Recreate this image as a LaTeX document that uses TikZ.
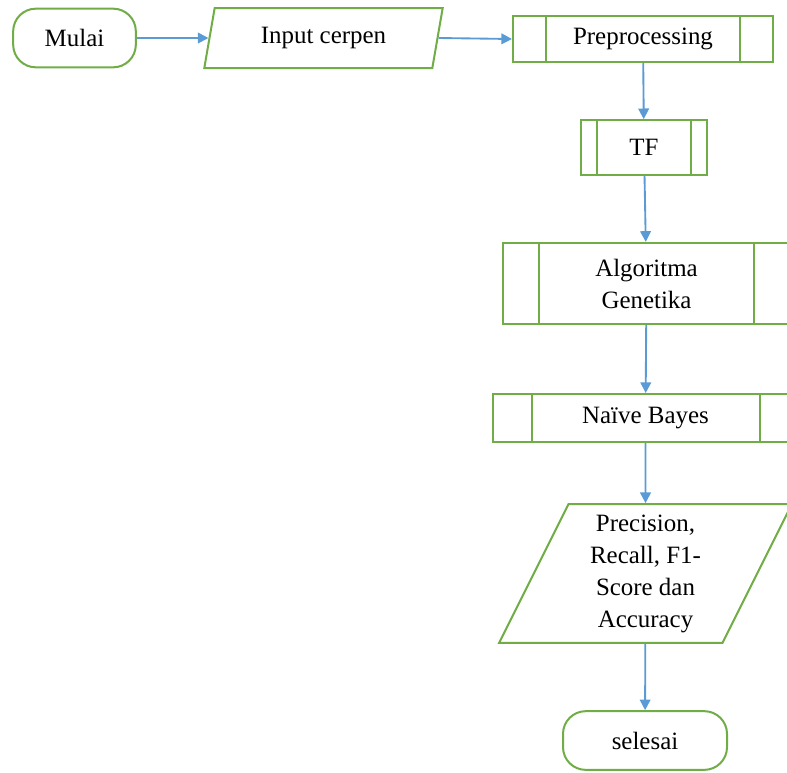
\documentclass[tikz,border=0pt]{standalone}
\usepackage{fontspec}
\setmainfont{Liberation Serif}
\usetikzlibrary{shapes.geometric,arrows.meta}

\definecolor{boxgreen}{RGB}{112,173,71}
\definecolor{linkblue}{RGB}{91,155,213}

\begin{document}
\begin{tikzpicture}
[
	x=0.75pt,
	y=-0.75pt,
	every node/.style={font=\fontsize{18.7}{24}\selectfont,align=center},
	terminal/.style={rectangle,rounded corners=17pt,draw=boxgreen,line width=1.5pt,minimum height=44pt},
	io/.style={trapezium,trapezium stretches=true,draw=boxgreen,line width=1.5pt,inner sep=2pt},
	predef/.style={rectangle,draw=boxgreen,line width=1.5pt,path picture={
		\draw[boxgreen,line width=1.5pt]
		  ([xshift=#1]path picture bounding box.north west) -- ([xshift=#1]path picture bounding box.south west)
		  ([xshift=-#1]path picture bounding box.north east) -- ([xshift=-#1]path picture bounding box.south east);
	}},
	link/.style={-{Triangle[length=8pt,width=8pt]},draw=linkblue,line width=1.4pt}
]

	% page
	\useasboundingbox (0,0) rectangle (787,772);
	\clip (0,0) rectangle (787,772);

	% top row
	\node[terminal,minimum width=92pt] at (74.5,38) (mulai) {Mulai};
	\node[io,trapezium left angle=77,trapezium right angle=103,minimum width=179pt,minimum height=45pt]
	  at (323.5,38) (input) {Input cerpen};
	\node[predef=24.75pt,minimum width=195pt,minimum height=34.5pt] at (643,39) (prep) {Preprocessing};

	% column
	\node[predef=12pt,minimum width=94.5pt,minimum height=41pt] at (644,147.5) (tf) {TF};
	\node[predef=27pt,minimum width=215pt,minimum height=61pt] at (646.5,283.5) (ga) {Algoritma\\Genetika};
	\node[predef=29pt,minimum width=229pt,minimum height=36pt] at (645.5,418) (nb) {Naïve Bayes};
	\node[io,trapezium left angle=67,trapezium right angle=113,minimum width=220pt,minimum height=104pt]
	  at (645.5,573.5) (hasil) {Precision,\\Recall, F1-\\Score dan\\Accuracy};
	\node[terminal,minimum width=123pt] at (645,740.5) (selesai) {selesai};

	% links
	\draw[link] (mulai) -- (input);
	\draw[link] (input.east) -- (prep.west);
	\draw[link] (prep) -- (tf);
	\draw[link] (tf) -- (ga);
	\draw[link] (ga) -- (nb);
	\draw[link] (nb) -- (hasil);
	\draw[link] (hasil) -- (selesai);

\end{tikzpicture}
\end{document}
